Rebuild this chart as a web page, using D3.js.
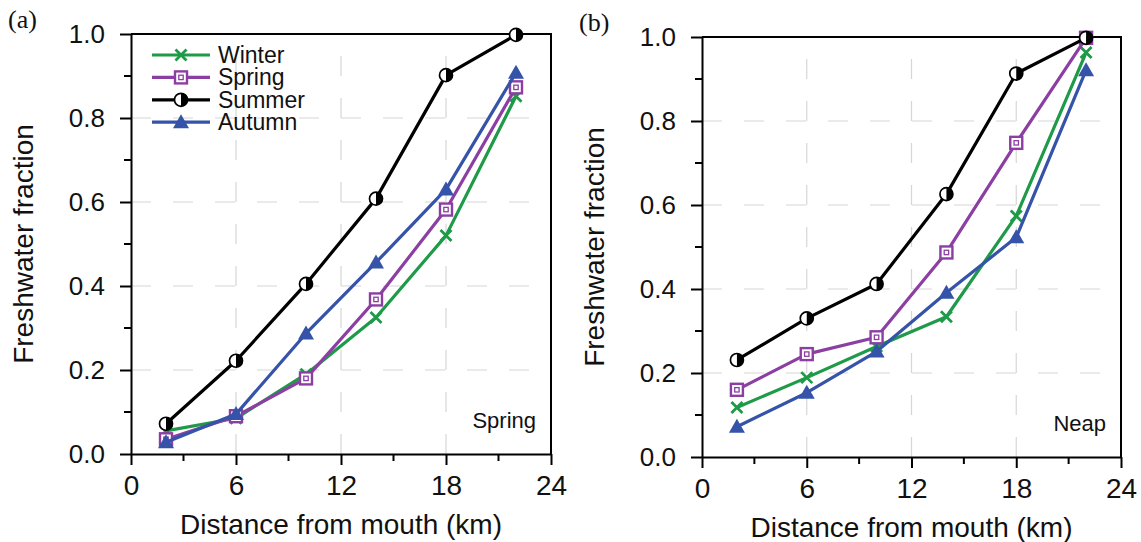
<!DOCTYPE html>
<html lang="en">
<head>
    <meta charset="UTF-8">
    <title>Freshwater fraction</title>
    <style>
      body { margin: 0; background: #fff; }
      text { font-family: "Liberation Sans", Arial, Helvetica, sans-serif; }
    </style>
</head>
<body>
    <div id="chart"></div>
    <script src="https://d3js.org/d3.v7.min.js"></script>
    <script>
// distance of the stations from the mouth (km)
var distance = [2, 6, 10, 14, 18, 22];

// (a) spring tide
var springWinter = [0.055, 0.085, 0.19, 0.325, 0.52, 0.852];
var springSpring = [0.035, 0.09, 0.18, 0.368, 0.582, 0.873];
var springSummer = [0.072, 0.222, 0.405, 0.608, 0.902, 0.998];
var springAutumn = [0.028, 0.095, 0.287, 0.456, 0.630, 0.908];

// (b) neap tide
var neapWinter = [0.118, 0.189, 0.263, 0.334, 0.574, 0.963];
var neapSpring = [0.160, 0.245, 0.285, 0.487, 0.748, 0.998];
var neapSummer = [0.231, 0.330, 0.412, 0.626, 0.913, 0.998];
var neapAutumn = [0.072, 0.153, 0.251, 0.391, 0.523, 0.921];

var seasons = ["Winter", "Spring", "Summer", "Autumn"];
var colors = {Winter: "#1e9a48", Spring: "#8c3fa3", Summer: "#000000", Autumn: "#3553a8"};

var xTicks = [0, 6, 12, 18, 24];
var xMinor = [3, 9, 15, 21];
var yTicks = [0, 0.2, 0.4, 0.6, 0.8, 1.0];
var yMinor = [0.1, 0.3, 0.5, 0.7, 0.9];

var svg = d3.select("#chart").append("svg")
  .attr("width", 1141)
  .attr("height", 542);

function drawMarker(g, season, color) {
  if (season == "Winter") {
    g.append("path")
      .attr("d", "M-5.5,-5.5L5.5,5.5M-5.5,5.5L5.5,-5.5")
      .attr("stroke", color).attr("stroke-width", 2.8).attr("fill", "none");
  } else if (season == "Spring") {
    g.append("rect").attr("x", -6).attr("y", -6).attr("width", 12).attr("height", 12)
      .attr("fill", "#fff").attr("stroke", color).attr("stroke-width", 2.4);
    g.append("rect").attr("x", -2.2).attr("y", -2.2).attr("width", 4.4).attr("height", 4.4)
      .attr("fill", "none").attr("stroke", color).attr("stroke-width", 1.3);
  } else if (season == "Summer") {
    g.append("circle").attr("r", 6.5).attr("fill", "#fff")
      .attr("stroke", color).attr("stroke-width", 1.7);
    g.append("path").attr("d", "M0,-6.5A6.5,6.5 0 0 1 0,6.5Z").attr("fill", color);
  } else {
    g.append("path").attr("d", "M0,-8L8,6L-8,6Z").attr("fill", color);
  }
}

function drawPanel(left, top, w, h, series, tag, tide, showLegend) {
  var x = d3.scaleLinear().domain([0, 24]).range([0, w]);
  var y = d3.scaleLinear().domain([0, 1]).range([h, 0]);

  var g = svg.append("g").attr("transform", "translate(" + left + "," + top + ")");

  // dashed grid
  g.selectAll(".hgrid").data([0.2, 0.4, 0.6, 0.8]).enter().append("line")
    .attr("x1", 0).attr("x2", w)
    .attr("y1", d => y(d)).attr("y2", d => y(d))
    .attr("stroke", "#d6d6d6").attr("stroke-width", 1.2)
    .attr("stroke-dasharray", "20,22");
  g.selectAll(".vgrid").data([6, 12, 18]).enter().append("line")
    .attr("x1", d => x(d)).attr("x2", d => x(d))
    .attr("y1", h).attr("y2", 0)
    .attr("stroke", "#d6d6d6").attr("stroke-width", 1.2)
    .attr("stroke-dasharray", "20,22");

  // axes
  var xAxis = g.append("g").attr("transform", "translate(0," + h + ")")
    .call(d3.axisBottom(x).tickValues(xTicks).tickSize(11).tickSizeOuter(0).tickPadding(10));
  xAxis.selectAll("text").style("font-size", "28px").attr("fill", "#111");
  xAxis.append("g").selectAll("line").data(xMinor).enter().append("line")
    .attr("x1", d => x(d)).attr("x2", d => x(d)).attr("y1", 0).attr("y2", 7)
    .attr("stroke", "#000").attr("stroke-width", 2);

  var yAxis = g.append("g")
    .call(d3.axisLeft(y).tickValues(yTicks).tickFormat(d3.format(".1f")).tickSize(11).tickSizeOuter(0).tickPadding(15));
  yAxis.selectAll("text").style("font-size", "26px").attr("fill", "#111");
  yAxis.append("g").selectAll("line").data(yMinor).enter().append("line")
    .attr("y1", d => y(d)).attr("y2", d => y(d)).attr("x1", 0).attr("x2", -7)
    .attr("stroke", "#000").attr("stroke-width", 2);

  g.selectAll(".domain, .tick line").attr("stroke", "#000").attr("stroke-width", 2);

  // top and right frame
  g.append("path")
    .attr("d", "M0,0H" + w + "V" + h)
    .attr("fill", "none").attr("stroke", "#000").attr("stroke-width", 2);

  // series lines and markers
  var line = d3.line().x(d => x(d[0])).y(d => y(d[1]));
  seasons.forEach(function(s, i) {
    var pts = distance.map((d, j) => [d, series[i][j]]);
    g.append("path").datum(pts)
      .attr("d", line)
      .attr("fill", "none")
      .attr("stroke", colors[s])
      .attr("stroke-width", 3.2)
      .attr("stroke-linejoin", "round");
    pts.forEach(function(p) {
      var m = g.append("g").attr("transform", "translate(" + x(p[0]) + "," + y(p[1]) + ")");
      drawMarker(m, s, colors[s]);
    });
  });

  // axis titles
  g.append("text")
    .attr("x", w / 2).attr("y", h + 80)
    .attr("text-anchor", "middle")
    .style("font-size", "28px").attr("fill", "#111")
    .text("Distance from mouth (km)");
  g.append("text")
    .attr("transform", "translate(" + (-98) + "," + (h / 2) + ") rotate(-90)")
    .attr("text-anchor", "middle")
    .style("font-size", "28px").attr("fill", "#111")
    .text("Freshwater fraction");

  // tide label inside the box
  g.append("text")
    .attr("x", w - 15).attr("y", h - 26)
    .attr("text-anchor", "end")
    .style("font-size", "22px").attr("fill", "#111")
    .text(tide);

  // panel tag
  svg.append("text")
    .attr("x", left - 123).attr("y", top - 6)
    .style("font-family", "'Liberation Serif', 'Times New Roman', serif")
    .style("font-size", "26px").attr("fill", "#111")
    .text(tag);

  if (showLegend) {
    var leg = g.selectAll(".legend").data(seasons).enter().append("g")
      .attr("transform", (d, i) => "translate(21," + (21 + i * 22.4) + ")");
    leg.append("line")
      .attr("x1", 0).attr("x2", 58)
      .attr("stroke", d => colors[d]).attr("stroke-width", 3.2);
    leg.each(function(d) {
      var m = d3.select(this).append("g").attr("transform", "translate(29,0)");
      drawMarker(m, d, colors[d]);
    });
    leg.append("text")
      .attr("x", 66).attr("y", 8)
      .style("font-size", "23px").attr("fill", "#111")
      .text(d => d);
  }
}

drawPanel(131, 34, 420, 420,
  [springWinter, springSpring, springSummer, springAutumn], "(a)", "Spring", true);
drawPanel(702, 37, 419, 420,
  [neapWinter, neapSpring, neapSummer, neapAutumn], "(b)", "Neap", false);
    </script>
</body>
</html>
